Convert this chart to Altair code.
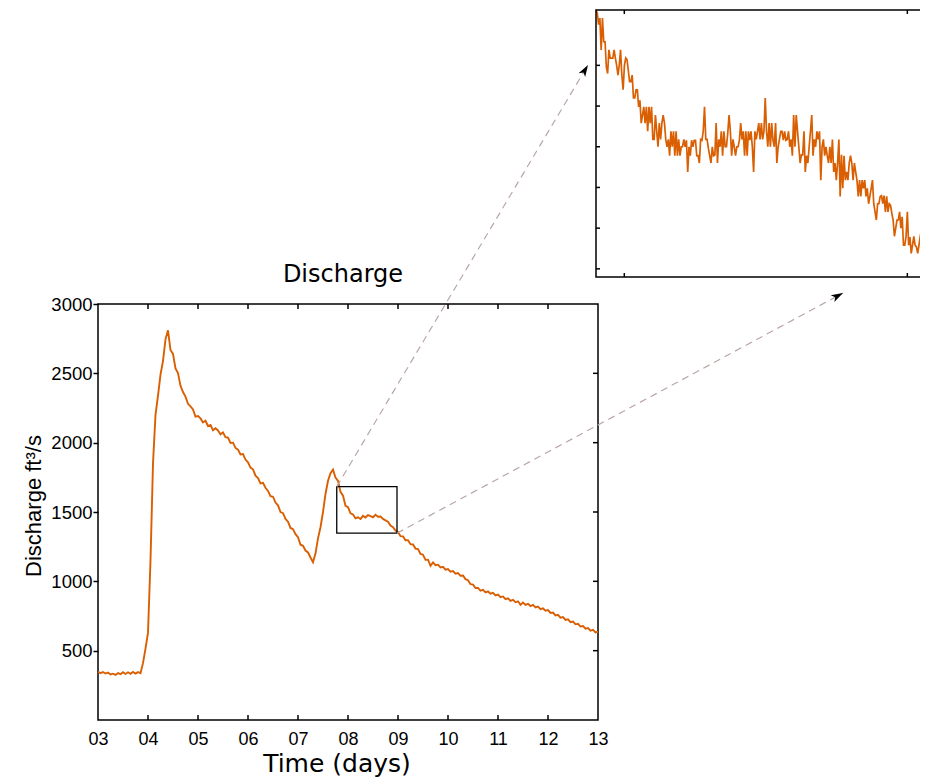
import altair as alt
import pandas as pd

ORANGE = "#D95F02"

# ---------------- main series (discharge, ft^3/s), sampled every 0.05 day from day 3 ----------------
t_start = 3.0
t_step = 0.05
discharge = [
    348, 338, 346, 335, 342, 328, 334, 325, 338, 330,
    345, 332, 344, 333, 347, 334, 345, 338, 410, 515,
    630, 1150, 1850, 2200, 2340, 2490, 2590, 2745, 2810, 2668,
    2640, 2535, 2502, 2410, 2365, 2332, 2280, 2262, 2240, 2188,
    2192, 2175, 2146, 2158, 2120, 2128, 2090, 2104, 2088, 2060,
    2074, 2040, 2036, 1998, 2000, 1962, 1950, 1915, 1918, 1878,
    1858, 1820, 1808, 1762, 1744, 1706, 1710, 1675, 1652, 1614,
    1610, 1568, 1548, 1500, 1492, 1450, 1430, 1385, 1376, 1340,
    1318, 1264, 1256, 1222, 1208, 1172, 1138, 1200, 1310, 1390,
    1500, 1630, 1725, 1780, 1805, 1748, 1725, 1645, 1618, 1545,
    1535, 1490, 1482, 1455, 1462, 1450, 1472, 1460, 1478, 1470,
    1462, 1480, 1466, 1468, 1450, 1440, 1430, 1402, 1390, 1366,
    1356, 1326, 1324, 1296, 1296, 1268, 1266, 1236, 1232, 1198,
    1192, 1155, 1156, 1112, 1136, 1116, 1120, 1100, 1104, 1084,
    1089, 1070, 1074, 1055, 1060, 1040, 1042, 1016, 1008, 979,
    976, 952, 953, 932, 938, 920, 927, 911, 917, 899,
    904, 886, 891, 872, 877, 859, 866, 849, 856, 830,
    847, 830, 838, 822, 830, 812, 818, 800, 806, 788,
    793, 772, 775, 754, 758, 738, 742, 722, 726, 706,
    710, 690, 694, 674, 678, 658, 663, 644, 650, 632,
    638,
]
main_t = [round(t_start + i * t_step, 3) for i in range(len(discharge))]

x_ticks = [3, 4, 5, 6, 7, 8, 9, 10, 11, 12, 13]
y_ticks = [500, 1000, 1500, 2000, 2500, 3000]
inner_x_ticks = [4, 5, 6, 7, 8, 9, 10, 11, 12]
inner_y_ticks = [500, 1000, 1500, 2000, 2500]

# zoom box on the main chart
box_t = [7.775, 8.98]
box_v = [1347, 1683]

# dashed arrows (start at box corners, end next to the inset)
arrow_t0 = [7.775, 8.98]
arrow_v0 = [1683, 1347]
arrow_t1 = [12.8, 17.9]
arrow_v1 = [4724, 3079]
arrow_angle = [31, 62]

# ---------------- inset (zoomed) series ----------------
inset_t_domain = [7.9, 9.08]
inset_v_domain = [1340, 1668]
inset_t_end = 9.073
inset_x_ticks = [8, 9]
inset_y_ticks = [1350, 1400, 1450, 1500, 1550, 1600]
inset_values = [
    1668, 1664, 1650, 1658, 1619, 1658, 1629, 1629, 1598, 1590,
    1619, 1609, 1609, 1609, 1619, 1609, 1600, 1588, 1600, 1619,
    1588, 1570, 1600, 1609, 1607, 1594, 1580, 1580, 1588, 1560,
    1560, 1570, 1570, 1549, 1557, 1529, 1539, 1549, 1529, 1549,
    1519, 1549, 1529, 1549, 1509, 1509, 1539, 1519, 1500, 1529,
    1509, 1529, 1539, 1529, 1509, 1500, 1509, 1489, 1519, 1500,
    1519, 1489, 1519, 1489, 1509, 1489, 1500, 1500, 1509, 1500,
    1508, 1469, 1500, 1489, 1508, 1500, 1508, 1508, 1489, 1489,
    1480, 1509, 1508, 1519, 1549, 1509, 1509, 1498, 1489, 1480,
    1500, 1489, 1490, 1529, 1480, 1509, 1500, 1519, 1489, 1519,
    1500, 1500, 1517, 1539, 1519, 1489, 1509, 1500, 1489, 1500,
    1500, 1508, 1529, 1509, 1519, 1489, 1519, 1489, 1519, 1508,
    1519, 1500, 1469, 1519, 1509, 1519, 1529, 1509, 1529, 1509,
    1519, 1560, 1519, 1500, 1529, 1500, 1529, 1508, 1500, 1529,
    1480, 1500, 1509, 1519, 1519, 1508, 1519, 1508, 1509, 1519,
    1500, 1509, 1489, 1539, 1500, 1539, 1519, 1500, 1480, 1490,
    1490, 1519, 1469, 1489, 1480, 1500, 1519, 1539, 1489, 1509,
    1500, 1519, 1509, 1519, 1459, 1500, 1509, 1489, 1500, 1489,
    1480, 1500, 1480, 1509, 1469, 1480, 1459, 1480, 1509, 1439,
    1490, 1449, 1489, 1459, 1469, 1459, 1480, 1489, 1480, 1459,
    1480, 1469, 1459, 1439, 1459, 1439, 1459, 1449, 1459, 1439,
    1449, 1430, 1439, 1449, 1459, 1430, 1420, 1410, 1430, 1430,
    1439, 1440, 1430, 1440, 1420, 1439, 1420, 1430, 1428, 1418,
    1410, 1390, 1400, 1410, 1410, 1420, 1400, 1414, 1379, 1379,
    1390, 1420, 1379, 1389, 1369, 1379, 1390, 1379, 1377, 1369,
    1379, 1390, 1399, 1349, 1369, 1349, 1379, 1379,
]
n_in = len(inset_values)
inset_t = [inset_t_domain[0] + i * (inset_t_end - inset_t_domain[0]) / (n_in - 1) for i in range(n_in)]

# ---------------- scales ----------------
X_MAIN = alt.Scale(domain=[3, 13], nice=False, zero=False)
Y_MAIN = alt.Scale(domain=[0, 3000], nice=False, zero=False)
X_IN = alt.Scale(domain=inset_t_domain, range=[498, 832], nice=False, zero=False)
Y_IN = alt.Scale(domain=inset_v_domain, range=[-27, -294], nice=False, zero=False)

# ---------------- main panel ----------------
df_main = pd.DataFrame({"t": main_t, "v": discharge})

main_line = alt.Chart(df_main).mark_line(color=ORANGE, strokeWidth=1.9).encode(
    x=alt.X(
        "t:Q",
        scale=X_MAIN,
        axis=alt.Axis(
            orient="bottom",
            values=x_ticks,
            labelExpr="(datum.value < 10 ? '0' : '') + datum.value",
            ticks=False,
            domain=False,
            grid=False,
            title=None,
            labelFont="Liberation Sans",
            labelFontSize=18,
            labelColor="black",
            labelPadding=10,
            labelFlush=False,
        ),
    ),
    y=alt.Y(
        "v:Q",
        scale=Y_MAIN,
        axis=alt.Axis(
            orient="left",
            values=y_ticks,
            format="d",
            ticks=True,
            tickSize=5,
            tickColor="black",
            tickWidth=1.5,
            domain=False,
            grid=False,
            title=None,
            labelFont="Liberation Sans",
            labelFontSize=18.5,
            labelColor="black",
            labelPadding=1,
            labelFlush=False,
        ),
    ),
)

df_box = pd.DataFrame({"t": [box_t[0]], "t2": [box_t[1]], "v": [box_v[0]], "v2": [box_v[1]]})
box = alt.Chart(df_box).mark_rect(fillOpacity=0, stroke="black", strokeWidth=1.3).encode(
    x=alt.X("t:Q", scale=X_MAIN, axis=None),
    x2="t2:Q",
    y=alt.Y("v:Q", scale=Y_MAIN, axis=None),
    y2="v2:Q",
)

df_arrows = pd.DataFrame({"t": arrow_t0, "v": arrow_v0, "t2": arrow_t1, "v2": arrow_v1, "ang": arrow_angle})
arrows = alt.Chart(df_arrows).mark_rule(color="#b9a6a6", strokeWidth=1.2, strokeDash=[7, 5]).encode(
    x=alt.X("t:Q", scale=X_MAIN, axis=None),
    x2="t2:Q",
    y=alt.Y("v:Q", scale=Y_MAIN, axis=None),
    y2="v2:Q",
)
heads = alt.Chart(df_arrows).mark_point(
    shape="M0,0L0.55,1.7L0,1.25L-0.55,1.7Z", filled=True, size=196, color="black", opacity=1, strokeWidth=0
).encode(
    x=alt.X("t2:Q", scale=X_MAIN, axis=None),
    y=alt.Y("v2:Q", scale=Y_MAIN, axis=None),
    angle=alt.Angle("ang:Q", scale=None),
)

df_xt = pd.DataFrame({"t": inner_x_ticks})
df_yt = pd.DataFrame({"v": inner_y_ticks})
tick_bottom = alt.Chart(df_xt).mark_rule(color="black", strokeWidth=1.5).encode(
    x=alt.X("t:Q", scale=X_MAIN, axis=None), y=alt.value(416), y2=alt.value(411)
)
tick_top = alt.Chart(df_xt).mark_rule(color="black", strokeWidth=1.5).encode(
    x=alt.X("t:Q", scale=X_MAIN, axis=None), y=alt.value(0), y2=alt.value(5)
)
tick_right = alt.Chart(df_yt).mark_rule(color="black", strokeWidth=1.5).encode(
    y=alt.Y("v:Q", scale=Y_MAIN, axis=None), x=alt.value(500), x2=alt.value(495)
)

title_txt = alt.Chart(pd.DataFrame({"s": ["Discharge"]})).mark_text(
    font="DejaVu Sans", fontSize=24, align="center", baseline="alphabetic", color="black"
).encode(text="s:N", x=alt.value(245), y=alt.value(-22))

xtitle_txt = alt.Chart(pd.DataFrame({"s": ["Time (days)"]})).mark_text(
    font="DejaVu Sans", fontSize=25, align="center", baseline="alphabetic", color="black"
).encode(text="s:N", x=alt.value(239), y=alt.value(468))

ytitle_txt = alt.Chart(pd.DataFrame({"s": ["Discharge  ft³/s"]})).mark_text(
    font="Liberation Sans", fontSize=22, align="center", baseline="alphabetic", color="black", angle=270
).encode(text="s:N", x=alt.value(-57), y=alt.value(202))

# ---------------- inset panel ----------------
df_in = pd.DataFrame({"ti": inset_t, "vi": inset_values})
inset_line = alt.Chart(df_in).mark_line(color=ORANGE, strokeWidth=1.7).encode(
    x=alt.X("ti:Q", scale=X_IN, axis=None),
    y=alt.Y("vi:Q", scale=Y_IN, axis=None),
)
df_frame = pd.DataFrame(
    {"ti": [inset_t_domain[0]], "ti2": [inset_t_domain[1]], "vi": [inset_v_domain[0]], "vi2": [inset_v_domain[1]]}
)
inset_frame = alt.Chart(df_frame).mark_rect(fillOpacity=0, stroke="black", strokeWidth=1.5).encode(
    x=alt.X("ti:Q", scale=X_IN, axis=None),
    x2="ti2:Q",
    y=alt.Y("vi:Q", scale=Y_IN, axis=None),
    y2="vi2:Q",
)
df_ixt = pd.DataFrame({"ti": inset_x_ticks})
df_iyt = pd.DataFrame({"vi": inset_y_ticks})
in_tick_top = alt.Chart(df_ixt).mark_rule(color="black", strokeWidth=1.5).encode(
    x=alt.X("ti:Q", scale=X_IN, axis=None), y=alt.value(-294), y2=alt.value(-290)
)
in_tick_bottom = alt.Chart(df_ixt).mark_rule(color="black", strokeWidth=1.5).encode(
    x=alt.X("ti:Q", scale=X_IN, axis=None), y=alt.value(-27), y2=alt.value(-31)
)
in_tick_left = alt.Chart(df_iyt).mark_rule(color="black", strokeWidth=1.5).encode(
    y=alt.Y("vi:Q", scale=Y_IN, axis=None), x=alt.value(498), x2=alt.value(502)
)

chart = (
    alt.layer(
        main_line, box, arrows, heads, tick_bottom, tick_top, tick_right,
        title_txt, xtitle_txt, ytitle_txt,
        inset_line, inset_frame, in_tick_top, in_tick_bottom, in_tick_left,
    )
    .resolve_scale(x="independent", y="independent")
    .properties(
        width=500,
        height=416,
        autosize=alt.AutoSizeParams(type="none"),
        padding={"left": 90, "top": 296, "right": 322, "bottom": 64},
        background="white",
    )
    .configure_view(stroke="black", strokeWidth=1.5)
)

chart.save("out.html", embed_options={"renderer": "svg", "actions": False})
